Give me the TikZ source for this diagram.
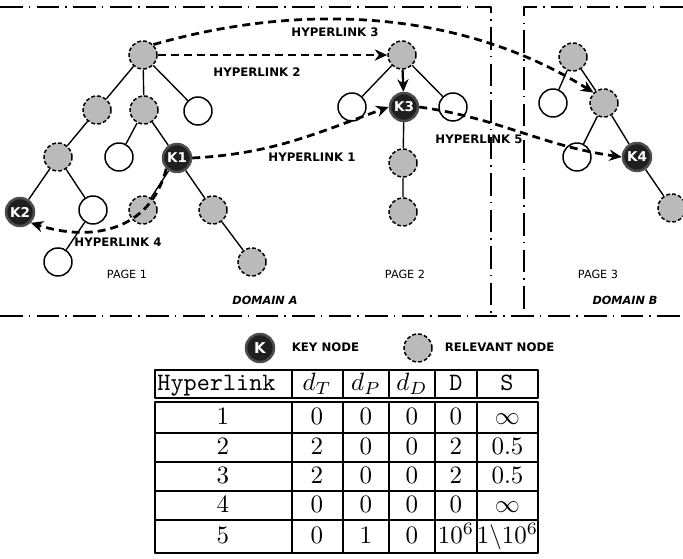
\documentclass[tikz,border=0pt]{standalone}
\usepackage{fontspec}
\usetikzlibrary{arrows.meta}
\newfontfamily\lblfont{DejaVu Sans}
\tikzset{
  key/.style={circle,fill=black!88,draw=black!70,line width=1pt,minimum size=11.2pt,inner sep=0pt,text=white,font=\lblfont\bfseries\fontsize{5.4}{6}\selectfont},
  rel/.style={circle,fill=black!27,draw,dash pattern=on 1.5pt off 0.9pt,line width=0.6pt,minimum size=11.2pt,inner sep=0pt},
  blank/.style={circle,fill=white,draw,line width=0.6pt,minimum size=11.2pt,inner sep=0pt},
  edge/.style={line width=0.55pt},
  link/.style={-{Stealth[length=5pt,width=4.5pt]},dash pattern=on 3.2pt off 2pt,line width=1.1pt},
  lbl/.style={font=\lblfont\bfseries\fontsize{4.7}{5}\selectfont},
  pg/.style={font=\lblfont\fontsize{4.5}{5}\selectfont},
  dom/.style={font=\lblfont\bfseries\itshape\fontsize{4.5}{5}\selectfont},
  frame/.style={line width=0.6pt,dash pattern=on 9pt off 2.5pt on 0.6pt off 2.5pt},
  tbl/.style={line width=0.9pt},
  cell/.style={inner sep=0pt,text height=1.6ex,text depth=0.3ex}
}
\begin{document}
\begin{tikzpicture}[x=0.4pt,y=-0.4pt,line join=round]
\useasboundingbox (0,0) rectangle (683,559);
\draw[frame](0,7)--(491,7)--(491,318);
\draw[frame](683,7)--(524,7)--(524,318);
\draw[frame](0,316)--(683,316);

% page 1
\node[rel] (p1R) at (143,55) {};
\node[rel] (p1A) at (97,110) {};
\node[rel] (p1B) at (144,110) {};
\node[blank] (p1C) at (198,111) {};
\node[rel] (p1D) at (58,157) {};
\node[blank] (p1E) at (119,157) {};
\node[key] (K1) at (177,158) {K1};
\node[key] (K2) at (20,212) {K2};
\node[blank] (p1F) at (93,210) {};
\node[rel] (p1G) at (143,210) {};
\node[rel] (p1H) at (213,210) {};
\node[blank] (p1W) at (58,262) {};
\node[rel] (p1I) at (252,262) {};
\draw[edge](p1R)--(p1A) (p1R)--(p1B) (p1R)--(p1C) (p1A)--(p1D) (p1B)--(p1E) (p1B)--(K1);
\draw[edge](p1D)--(K2) (p1D)--(p1F) (p1F)--(p1W) (K1)--(p1G) (K1)--(p1H) (p1H)--(p1I);

% page 2
\node[rel] (p2R) at (402,55) {};
\node[blank] (p2L) at (352,107) {};
\node[key] (K3) at (404,107) {K3};
\node[blank] (p2Rt) at (453,107) {};
\node[rel] (p2A) at (403,163) {};
\node[rel] (p2B) at (403,212) {};
\draw[edge](p2R)--(p2L) (p2R)--(p2Rt) (K3)--(p2A) (p2A)--(p2B);
\draw[-{Stealth[length=5pt,width=4.5pt]},line width=0.9pt](p2R)--(K3);

% page 3
\node[rel] (p3A) at (573,57) {};
\node[rel] (p3B) at (604,103) {};
\node[blank] (p3W) at (553,103) {};
\node[blank] (p3V) at (577,157) {};
\node[key] (K4) at (637,157) {K4};
\node[rel] (p3C) at (672,208) {};
\draw[edge](p3A)--(p3B) (p3A)--(p3W) (p3B)--(p3V) (p3B)--(K4) (K4)--(p3C);

% hyperlinks
\draw[link](p1R.east)--(p2R.west);
\draw[link](p1R.north east) to[out=16,in=148,looseness=0.9] (p3B.north west);
\draw[link](K1.east) to[out=3,in=200] (K3.west);
\draw[link](K1.south west) .. controls (150,232) and (90,242) .. (K2.south east);
\draw[link](K3.east) to[out=-8,in=172] (K4.west);

\node[lbl] (h1) at (312,157) {HYPERLINK 1};
\node[lbl] (h2) at (257,72) {HYPERLINK 2};
\node[lbl] (h3) at (335,32) {HYPERLINK 3};
\node[lbl] (h4) at (118,242) {HYPERLINK 4};
\node[lbl] (h5) at (479,139) {HYPERLINK 5};
\node[pg] (pg1) at (127,274) {PAGE 1};
\node[pg] (pg2) at (405,274) {PAGE 2};
\node[pg] (pg3) at (598,274) {PAGE 3};
\node[dom] (dA) at (265,300) {DOMAIN A};
\node[dom] (dB) at (625,300) {DOMAIN B};

% legend
\node[key,font=\lblfont\bfseries\fontsize{6}{7}\selectfont] (lgK) at (260,348) {K};
\node[lbl,anchor=west] (lgKt) at (283,347) {KEY NODE};
\node[rel] (lgR) at (418,348) {};
\node[lbl,anchor=west] (lgRt) at (436,347) {RELEVANT NODE};

% table
\draw[tbl](155,370) rectangle (538,398);
\draw[tbl](155,402) rectangle (538,553);
\foreach \x in {292,343,389,435,477} {
  \draw[tbl](\x,370)--(\x,398);
  \draw[tbl](\x,402)--(\x,553);
}
\foreach \y in {433,462,491,520} \draw[tbl](155,\y)--(538,\y);
\node[cell,anchor=west] (tH) at (157,384) {\texttt{Hyperlink}};
\node[cell] (tT) at (317,384) {$d_T$};
\node[cell] (tP) at (366,384) {$d_P$};
\node[cell] (tDD) at (412,384) {$d_D$};
\node[cell] (tD) at (456,384) {\texttt{D}};
\node[cell] (tS) at (507,384) {\texttt{S}};
\foreach \r/\y/\a/\b/\c/\d/\s in {1/417.5/0/0/0/0/\infty, 2/447.5/2/0/0/2/0.5, 3/476.5/2/0/0/2/0.5, 4/505.5/0/0/0/0/\infty, 5/536.5/0/1/0/10^6/1\backslash10^6} {
  \node[cell] (r\r c1) at (223,\y) {$\r$};
  \node[cell] (r\r c2) at (317,\y) {$\a$};
  \node[cell] (r\r c3) at (366,\y) {$\b$};
  \node[cell] (r\r c4) at (412,\y) {$\c$};
  \node[cell] (r\r c5) at (456,\y) {$\d$};
  \node[cell] (r\r c6) at (507.5,\y) {$\s$};
}
\end{tikzpicture}
\end{document}
